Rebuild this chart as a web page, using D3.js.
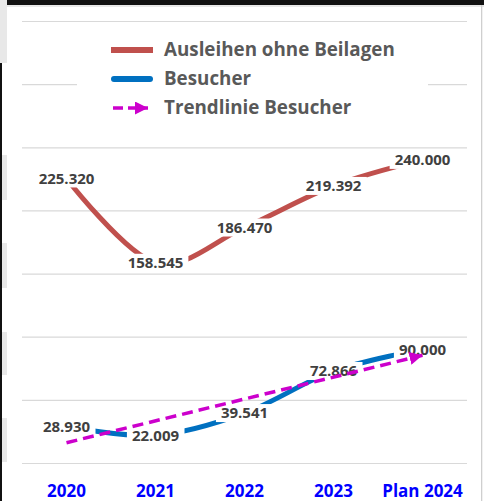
<!DOCTYPE html>
<html>
<head>
  <meta charset="utf-8">
  <script src="https://d3js.org/d3.v7.min.js"></script>
  <style>
    body { margin: 0; background: #fff; }
    svg { display: block; font-family: "Open Sans", sans-serif; }
  </style>
</head>
<body>
  <script>
    // Chart data
    var categories = ["2020", "2021", "2022", "2023", "Plan 2024"];
    var ausleihen = [225320, 158545, 186470, 219392, 240000];
    var besucher = [28930, 22009, 39541, 72866, 90000];
    // trend line read at first and last category
    var trendCats = ["2020", "Plan 2024"];
    var trendValues = [16070, 85270];
    var yTicks = [0, 50000, 100000, 150000, 200000, 250000, 300000, 350000];

    var W = 484, H = 501;
    var plot = {left: 22, right: 467, top: 21, bottom: 463};

    var de = d3.formatLocale({decimal: ",", thousands: ".", grouping: [3], currency: ["", " €"]});
    var fmt = de.format(",d");

    var svg = d3.select("body").append("svg")
      .attr("width", W)
      .attr("height", H);

    // Screenshot frame bits
    svg.append("rect").attr("x", 0).attr("y", 0).attr("width", W).attr("height", 7).attr("fill", "#e8e8e8");
    svg.append("rect").attr("x", 0).attr("y", 0).attr("width", W).attr("height", 5).attr("fill", "#111");
    svg.append("rect").attr("x", 0).attr("y", 0).attr("width", 7).attr("height", 63).attr("fill", "#e8e8e8");
    svg.append("rect").attr("x", 0).attr("y", 63).attr("width", 2).attr("height", H - 63).attr("fill", "#111");
    [[155, 200], [243, 288], [332, 375], [418, 462]].forEach(function(b) {
      svg.append("rect").attr("x", 2).attr("y", b[0]).attr("width", 5).attr("height", b[1] - b[0]).attr("fill", "#e8e8e8");
    });
    svg.append("rect").attr("x", 481).attr("y", 5).attr("width", 1.3).attr("height", H - 5).attr("fill", "#cfcfcf");

    // Scales
    var x = d3.scaleBand().domain(categories).range([plot.left, plot.right]);
    var cx = function(c) { return x(c) + x.bandwidth() / 2; };
    var y = d3.scaleLinear().domain([0, 350000]).range([plot.bottom, plot.top]);

    // Gridlines
    var grid = svg.append("g")
      .attr("transform", "translate(" + plot.left + ",0)")
      .call(d3.axisLeft(y).tickValues(yTicks).tickSize(-(plot.right - plot.left)).tickFormat(""));
    grid.select(".domain").remove();
    grid.selectAll("line").attr("stroke", "#d9d9d9").attr("stroke-width", 1.2);

    // X axis labels
    var xAxis = svg.append("g")
      .attr("transform", "translate(0," + plot.bottom + ")")
      .call(d3.axisBottom(x).tickSize(0));
    xAxis.select(".domain").remove();
    xAxis.selectAll("text")
      .attr("y", 33.5).attr("dy", 0)
      .attr("fill", "#0000ff")
      .style("font-family", "'Open Sans', sans-serif")
      .style("font-size", "17px")
      .style("font-weight", "700");

    // Lines
    var line = d3.line()
      .x(function(d, i) { return cx(categories[i]); })
      .y(function(d) { return y(d); })
      .curve(d3.curveCardinal.tension(0));

    svg.append("path").datum(ausleihen)
      .attr("d", line).attr("fill", "none")
      .attr("stroke", "#c0504d").attr("stroke-width", 5);

    svg.append("path").datum(besucher)
      .attr("d", line).attr("fill", "none")
      .attr("stroke", "#0070c0").attr("stroke-width", 5);

    // Data labels with white boxes
    function addLabels(values) {
      values.forEach(function(v, i) {
        var g = svg.append("g");
        var t = g.append("text")
          .attr("x", cx(categories[i]))
          .attr("y", y(v))
          .attr("dy", "0.36em")
          .attr("text-anchor", "middle")
          .attr("fill", "#404040")
          .style("font-size", "15px")
          .style("font-weight", "700")
          .text(fmt(v));
        var bb = t.node().getBBox();
        g.insert("rect", "text")
          .attr("x", bb.x - 5).attr("y", y(v) - 9)
          .attr("width", bb.width + 10).attr("height", 18)
          .attr("fill", "#fff");
      });
    }
    addLabels(ausleihen);
    addLabels(besucher);

    // Arrow marker
    var defs = svg.append("defs");
    defs.append("marker")
      .attr("id", "arrow")
      .attr("markerUnits", "userSpaceOnUse")
      .attr("viewBox", "0 0 12 12")
      .attr("refX", 12).attr("refY", 6)
      .attr("markerWidth", 13).attr("markerHeight", 13)
      .attr("orient", "auto")
      .append("path").attr("d", "M0,0L12,6L0,12Z").attr("fill", "#cc00cc");

    // Trend line
    svg.append("line")
      .attr("x1", cx(trendCats[0])).attr("y1", y(trendValues[0]))
      .attr("x2", cx(trendCats[1])).attr("y2", y(trendValues[1]))
      .attr("stroke", "#cc00cc").attr("stroke-width", 3.5)
      .attr("stroke-dasharray", "11,6")
      .attr("marker-end", "url(#arrow)");

    // Legend
    var legend = svg.append("g");
    legend.append("rect").attr("x", 77).attr("y", 30).attr("width", 351).attr("height", 95).attr("fill", "#fff");
    var items = [
      {name: "Ausleihen ohne Beilagen", color: "#c0504d", type: "solid", y: 50},
      {name: "Besucher", color: "#0070c0", type: "round", y: 79},
      {name: "Trendlinie Besucher", color: "#cc00cc", type: "trend", y: 108}
    ];
    items.forEach(function(it) {
      if (it.type === "trend") {
        legend.append("line")
          .attr("x1", 113).attr("x2", 148).attr("y1", it.y).attr("y2", it.y)
          .attr("stroke", it.color).attr("stroke-width", 3.5)
          .attr("stroke-dasharray", "10,5")
          .attr("marker-end", "url(#arrow)");
      } else {
        legend.append("line")
          .attr("x1", it.type === "round" ? 114 : 111).attr("x2", it.type === "round" ? 150 : 153)
          .attr("y1", it.y).attr("y2", it.y)
          .attr("stroke", it.color).attr("stroke-width", 6)
          .attr("stroke-linecap", it.type === "round" ? "round" : "butt");
      }
      legend.append("text")
        .attr("x", 164).attr("y", it.y + 6)
        .attr("fill", "#595959")
        .style("font-size", "18.8px")
        .style("font-weight", "700")
        .text(it.name);
    });
  </script>
</body>
</html>
